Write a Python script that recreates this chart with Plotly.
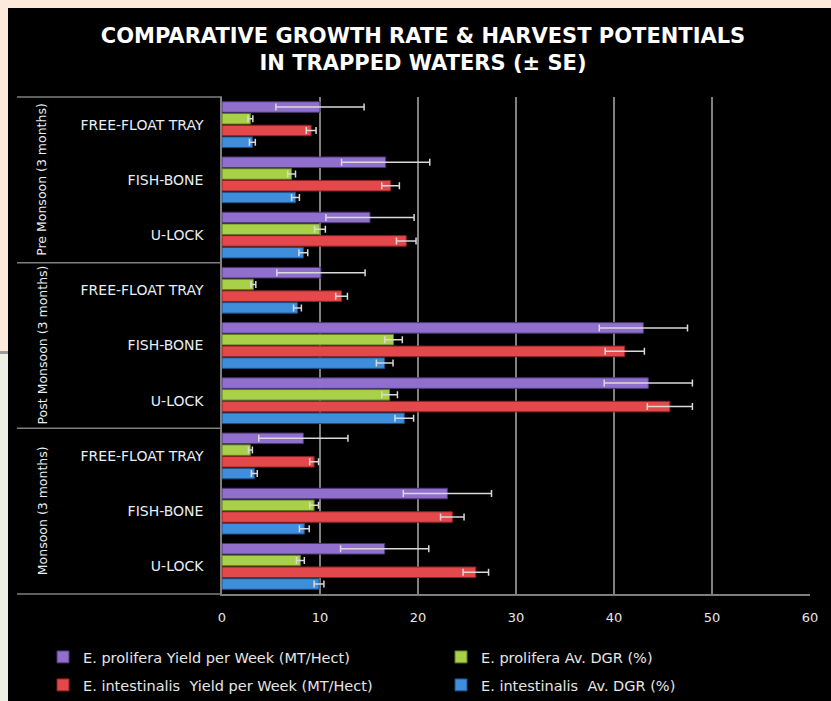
import plotly.graph_objects as go

# Categories bottom-to-top
seasons = ["Monsoon", "Monsoon", "Monsoon",
           "Post Monsoon", "Post Monsoon", "Post Monsoon",
           "Pre Monsoon", "Pre Monsoon", "Pre Monsoon"]
methods = ["U-LOCK", "FISH-BONE", "FREE-FLOAT TRAY"] * 3
season_labels = ["Monsoon (3 months)", "Post Monsoon (3 months)", "Pre Monsoon (3 months)"]

prolifera_yield = [16.6, 23.0, 8.3, 43.5, 43.0, 10.1, 15.1, 16.7, 10.0]
prolifera_yield_se = [4.5, 4.5, 4.55, 4.5, 4.5, 4.5, 4.5, 4.5, 4.5]
prolifera_dgr = [8.0, 9.4, 2.9, 17.1, 17.5, 3.2, 10.0, 7.1, 2.9]
prolifera_dgr_se = [0.4, 0.45, 0.2, 0.8, 0.9, 0.25, 0.55, 0.4, 0.25]
intestinalis_yield = [25.9, 23.5, 9.4, 45.7, 41.1, 12.2, 18.8, 17.2, 9.1]
intestinalis_yield_se = [1.3, 1.2, 0.45, 2.3, 2.0, 0.6, 1.0, 0.9, 0.5]
intestinalis_dgr = [9.9, 8.4, 3.3, 18.6, 16.6, 7.7, 8.3, 7.5, 3.1]
intestinalis_dgr_se = [0.5, 0.5, 0.3, 0.95, 0.85, 0.4, 0.45, 0.4, 0.3]

x_ticks = [0, 10, 20, 30, 40, 50, 60]

cat_keys = [f"{s}|{m}" for s, m in zip(seasons, methods)]

# figure is placed at (8, 8) on the page by the default body margin
W, H = 823, 693
PL, PR, PT, PB = 214, 802, 89, 586

def px(x):  # figure px -> plot paper x
    return (x - PL) / (PR - PL)

# name, values, se, color, outline, legend id, legend pos (fig px: text-left x, center y)
series = [
    ("E. intestinalis  Av. DGR (%)", intestinalis_dgr, intestinalis_dgr_se, "#3F8EDB", "#1F4E85", "legend4", (473, 677)),
    ("E. intestinalis  Yield per Week (MT/Hect)", intestinalis_yield, intestinalis_yield_se, "#E3484B", "#8A2224", "legend3", (75, 677)),
    ("E. prolifera Av. DGR (%)", prolifera_dgr, prolifera_dgr_se, "#A8D048", "#5E7A22", "legend2", (473, 649)),
    ("E. prolifera Yield per Week (MT/Hect)", prolifera_yield, prolifera_yield_se, "#9070CC", "#4C3575", "legend", (75, 649)),
]

fig = go.Figure()
legends = {}
for name, vals, se, col, dark, lg, (lx, ly) in series:
    fig.add_trace(go.Bar(
        y=cat_keys, x=vals, name=name, orientation="h", legend=lg,
        marker=dict(color=col, line=dict(color=dark, width=1)),
        error_x=dict(type="data", array=se, visible=True,
                     color="#D9D9D9", thickness=1.5, width=3.5),
    ))
    legends[lg] = dict(orientation="h", xref="container", yref="container",
                       x=(lx - 40) / W, xanchor="left", y=1 - ly / H, yanchor="middle",
                       font=dict(family="DejaVu Sans", size=14.5, color="#E6E6E6"),
                       bgcolor="rgba(0,0,0,0)", borderwidth=0)

shapes = []
for yy in [1.0, 2 / 3, 1 / 3, 0.0]:
    shapes.append(dict(type="line", xref="paper", yref="paper",
                       x0=px(9), x1=0, y0=yy, y1=yy,
                       line=dict(color="#7F7F7F", width=1.5)))

annotations = []
for i, lab in enumerate(season_labels):
    annotations.append(dict(text=lab, textangle=-90, xref="paper", yref="paper",
                            x=px(34), y=(2 * i + 1) / 6, xanchor="center", yanchor="middle",
                            showarrow=False,
                            font=dict(family="DejaVu Sans", size=12.5, color="#E8EEF6")))

fig.update_layout(
    width=W, height=H,
    margin=dict(l=PL, r=W - PR, t=PT, b=H - PB),
    paper_bgcolor="black", plot_bgcolor="black",
    title=dict(text="COMPARATIVE GROWTH RATE & HARVEST POTENTIALS<br>IN TRAPPED WATERS (± SE)",
               xref="container", yref="container",
               x=415 / W, xanchor="center", y=1 - 34.5 / H, yanchor="middle",
               font=dict(family="DejaVu Sans", size=21, color="white", weight="bold")),
    barmode="group", bargap=0.15, bargroupgap=0.1,
    showlegend=True,
    shapes=shapes, annotations=annotations,
    **legends,
)
fig.update_xaxes(range=[0, 60], tickvals=x_ticks, showgrid=True, gridcolor="#808080", gridwidth=1.5,
                 zeroline=False, showline=True, linecolor="#7F7F7F", linewidth=1.5,
                 ticks="", ticklabelstandoff=11,
                 tickfont=dict(family="DejaVu Sans", size=13, color="#E6E6E6"))
fig.update_yaxes(type="category", categoryorder="array", categoryarray=cat_keys,
                 tickvals=cat_keys, ticktext=methods, showgrid=False,
                 showline=True, linecolor="#7F7F7F", linewidth=1.5, ticks="",
                 ticklabelstandoff=14,
                 tickfont=dict(family="DejaVu Sans", size=14, color="#E8EEF6"))

page_bg = (
    "var r=document.documentElement;"
    "r.style.background='linear-gradient(to bottom, #FCEBDD 0px, #FCEBDD 8px, transparent 8px),"
    "linear-gradient(to right, transparent 0px, transparent 8px, #000 8px),"
    "linear-gradient(to bottom, #FCEBDD 0px, #FCEBDD 351px, #9A9A9A 351px, #9A9A9A 354px, #EEF0E4 354px)';"
    "r.style.minHeight='100%';"
    "document.body.style.background='transparent';"
)

fig.write_html("out.html", post_script=page_bg)
